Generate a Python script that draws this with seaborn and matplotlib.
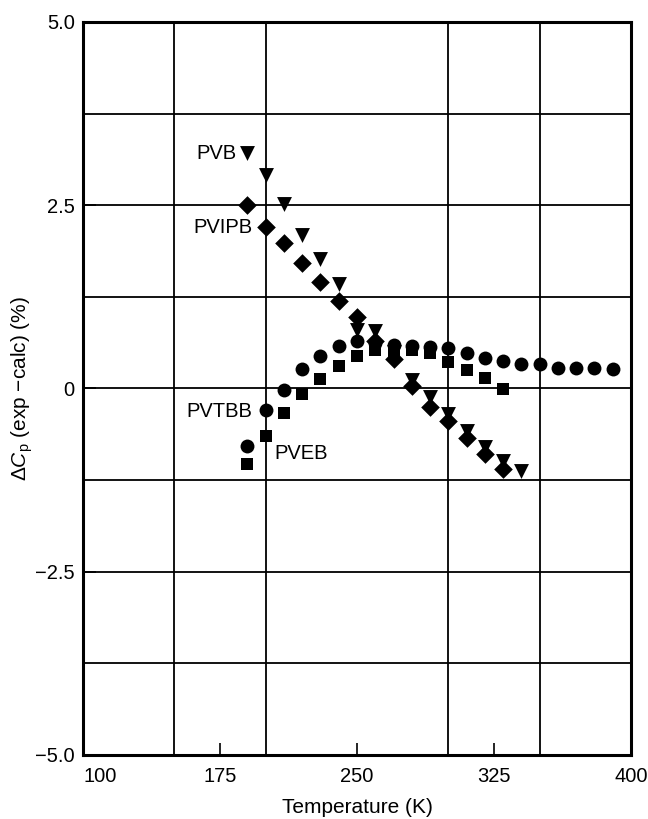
import matplotlib
matplotlib.use("Agg")
import matplotlib.pyplot as plt
from matplotlib.ticker import MultipleLocator, FixedLocator
import seaborn as sns
import pandas as pd

# ---- data ----
T_pvb = [190, 200, 210, 220, 230, 240, 250, 260, 270, 280, 290, 300, 310, 320, 330, 340]
pvb = [3.21, 2.91, 2.52, 2.10, 1.76, 1.43, 0.80, 0.78, 0.50, 0.12, -0.12, -0.35, -0.58, -0.80, -0.99, -1.12]

T_pvipb = [190, 200, 210, 220, 230, 240, 250, 260, 270, 280, 290, 300, 310, 320, 330]
pvipb = [2.50, 2.21, 1.98, 1.71, 1.45, 1.20, 0.97, 0.65, 0.40, 0.03, -0.25, -0.45, -0.67, -0.89, -1.10]

T_pvtbb = [190, 200, 210, 220, 230, 240, 250, 260, 270, 280, 290, 300, 310, 320, 330,
           340, 350, 360, 370, 380, 390]
pvtbb = [-0.78, -0.30, -0.02, 0.27, 0.45, 0.58, 0.65, 0.62, 0.60, 0.58, 0.56, 0.55, 0.48, 0.41, 0.37,
         0.34, 0.33, 0.28, 0.28, 0.28, 0.27]

T_pveb = [190, 200, 210, 220, 230, 240, 250, 260, 270, 280, 290, 300, 310, 320, 330]
pveb = [-1.03, -0.65, -0.33, -0.08, 0.13, 0.31, 0.45, 0.52, 0.50, 0.52, 0.48, 0.36, 0.25, 0.15, -0.01]

series_names = ["PVB", "PVIPB", "PVTBB", "PVEB"]
x_ticks = [100, 175, 250, 325, 400]
x_ticklabels = ["100", "175", "250", "325", "400"]
y_ticks = [-5.0, -2.5, 0, 2.5, 5.0]
y_ticklabels = ["\u22125.0", "\u22122.5", "0", "2.5", "5.0"]

df = pd.concat([
    pd.DataFrame({"T": T_pvb, "d": pvb, "series": "PVB"}),
    pd.DataFrame({"T": T_pvipb, "d": pvipb, "series": "PVIPB"}),
    pd.DataFrame({"T": T_pvtbb, "d": pvtbb, "series": "PVTBB"}),
    pd.DataFrame({"T": T_pveb, "d": pveb, "series": "PVEB"}),
], ignore_index=True)

sns.set_theme(style="white")
plt.rcParams["font.family"] = ["Liberation Sans", "DejaVu Sans"]
plt.rcParams["mathtext.fontset"] = "custom"
plt.rcParams["mathtext.rm"] = "Liberation Sans"
plt.rcParams["mathtext.it"] = "Liberation Sans:italic"

fig = plt.figure(figsize=(6.48, 8.19), dpi=100)
ax = fig.add_axes([83 / 648, 64 / 819, 548 / 648, 733 / 819])

markers = {"PVB": "v", "PVIPB": "D", "PVTBB": "o", "PVEB": "s"}
sizes_by = {"PVB": 115, "PVIPB": 90, "PVTBB": 100, "PVEB": 80}
for name in series_names:
    sub = df[df["series"] == name]
    sns.scatterplot(data=sub, x="T", y="d", marker=markers[name], s=sizes_by[name],
                    color="black", edgecolor="black", linewidth=0, ax=ax, legend=False, zorder=3)

ax.set_xlim(100, 400)
ax.set_ylim(-5, 5)
ax.xaxis.set_major_locator(FixedLocator(x_ticks))
ax.set_xticklabels(x_ticklabels)
ax.xaxis.set_minor_locator(MultipleLocator(50))
ax.yaxis.set_major_locator(FixedLocator(y_ticks))
ax.set_yticklabels(y_ticklabels)
ax.yaxis.set_minor_locator(MultipleLocator(1.25))

ax.grid(False)
ax.grid(True, which="minor", axis="x", color="black", linewidth=1.3)
ax.grid(True, which="both", axis="y", color="black", linewidth=1.3)
ax.set_axisbelow(True)

ax.tick_params(axis="both", which="major", direction="in", length=9, width=1.2,
               color="black", labelsize=14.5, labelcolor="black",
               bottom=True, left=True)
ax.tick_params(axis="x", which="major", pad=9)
ax.tick_params(axis="y", which="major", pad=6)
ax.tick_params(axis="both", which="minor", length=0)
ax.get_xticklabels()[0].set_horizontalalignment("left")
for sp in ax.spines.values():
    sp.set_color("black")
    sp.set_linewidth(2.2)

ax.set_xlabel("Temperature (K)", fontsize=15, color="black", labelpad=8)
ax.set_ylabel(r"$\Delta C_{\mathrm{p}}$ (exp $-$calc) (%)", fontsize=15, color="black")
ax.yaxis.set_label_coords(-0.088, 0.5)

lab_kw = dict(fontsize=14.5, color="black", va="center")
ax.text(184, 3.21, "PVB", ha="right", **lab_kw)
ax.text(193, 2.20, "PVIPB", ha="right", **lab_kw)
ax.text(192.5, -0.31, "PVTBB", ha="right", **lab_kw)
ax.text(205, -0.88, "PVEB", ha="left", **lab_kw)

fig.savefig("out.png", dpi=100, facecolor="white")
